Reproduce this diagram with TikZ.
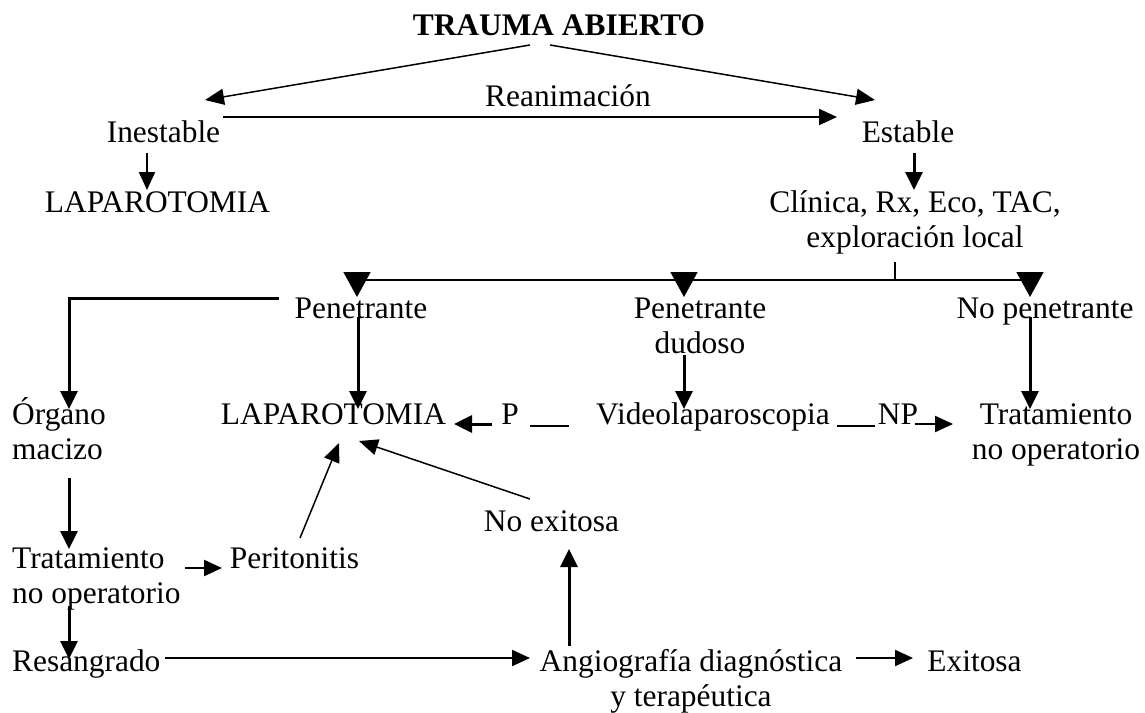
\documentclass[tikz,border=0pt]{standalone}
\usepackage{fontspec}
\setmainfont{Liberation Serif}
\usetikzlibrary{arrows.meta,positioning}
\newcommand{\twoln}[3][c]{\begin{tabular}[t]{@{}#1@{}}#2\\#3\end{tabular}}

\begin{document}
\begin{tikzpicture}[x=1pt,y=-1pt,
    lbl/.style={inner sep=0pt,anchor=base,font=\fontsize{31.4pt}{35pt}\selectfont},
    lblw/.style={lbl,anchor=base west},
    conn/.style={line width=1.5pt},
    tarr/.style={line width=1.5pt,-{Triangle[length=19pt,width=16pt]}},
    arr/.style={line width=2.2pt,-{Triangle[length=18pt,width=16pt]}},
    thickarr/.style={line width=3pt,-{Triangle[length=18pt,width=17pt]}},
    bigarr/.style={line width=1.5pt,-{Triangle[length=25pt,width=27pt]}}]
    \useasboundingbox (0,0) rectangle (1145,712);
    % Labels
    \node[lbl] (title) at (559,35) {\textbf{TRAUMA ABIERTO}};
    \node[lbl] (rean) at (568,106) {Reanimación};
    \node[lbl] (inest) at (163.5,142) {Inestable};
    \node[lbl] (estab) at (908,142) {Estable};
    \node[lbl] (lapI) at (157.5,212) {LAPAROTOMIA};
    \node[lbl] (clin) at (915,212) {\twoln{Clínica, Rx, Eco, TAC,}{exploración local}};
    \node[lbl] (pen) at (361,318) {Penetrante};
    \node[lbl] (pendud) at (700,318) {\twoln{Penetrante}{dudoso}};
    \node[lbl] (nopen) at (1045,318) {No penetrante};
    \node[lblw] (organo) at (12,424) {\twoln[l]{Órgano}{macizo}};
    \node[lbl] (lapII) at (333.5,424) {LAPAROTOMIA};
    \node[lbl] (pP) at (510,424) {P};
    \node[lbl] (video) at (713,424) {Videolaparoscopia};
    \node[lbl] (np) at (898,424) {NP};
    \node[lbl] (tratR) at (1056,424) {\twoln{Tratamiento}{no operatorio}};
    \node[lbl] (noexit) at (551.5,531) {No exitosa};
    \node[lblw] (tratL) at (12,568) {\twoln[l]{Tratamiento}{no operatorio}};
    \node[lbl] (perit) at (294.5,568) {Peritonitis};
    \node[lblw] (resang) at (12,671) {Resangrado};
    \node[lbl] (angio) at (691,671) {\twoln{Angiografía diagnóstica}{y terapéutica}};
    \node[lbl] (exit) at (974.5,671) {Exitosa};
    % Top part
    \draw[tarr] ([shift={(-29,10)}]title.base) -- ([shift={(41.5,-42)}]inest.base);
    \draw[tarr] ([shift={(-9,10)}]title.base) -- ([shift={(-33,-42)}]estab.base);
    \draw[arr] ([shift={(59.5,-25)}]inest.base) -- ([shift={(-71,-25)}]estab.base);
    \draw[arr] ([shift={(-16.5,11)}]inest.base) -- ([shift={(-10.5,-22)}]lapI.base);
    \draw[thickarr] ([shift={(6,11)}]estab.base) -- ([shift={(-1,-22)}]clin.base);
    % Branches
    \draw[conn] ([shift={(-20,50)}]clin.base) -- ([shift={(-20,68)}]clin.base);
    \draw[conn] ([shift={(-4,-38)}]pen.base) -- ([shift={(-15,-38)}]nopen.base);
    \draw[bigarr] ([shift={(-4,-46)}]pen.base) -- ([shift={(-4,-21)}]pen.base);
    \draw[bigarr] ([shift={(-16,-46)}]pendud.base) -- ([shift={(-16,-21)}]pendud.base);
    \draw[bigarr] ([shift={(-15,-46)}]nopen.base) -- ([shift={(-15,-21)}]nopen.base);
    % Penetrante
    \draw[thickarr] ([shift={(-82,-20)}]pen.base) -| ([shift={(57,-15)}]organo.base west);
    \draw[thickarr] ([shift={(-3,-1)}]pen.base) -- ([shift={(24.5,-15)}]lapII.base);
    \draw[thickarr] ([shift={(-16,37)}]pendud.base) -- ([shift={(-29,-15)}]video.base);
    \draw[thickarr] ([shift={(-15,-1)}]nopen.base) -- ([shift={(-26,-15)}]tratR.base);
    % Videolaparoscopia
    \draw[conn] ([shift={(20,2)}]pP.base) -- ([shift={(-144,2)}]video.base);
    \draw[thickarr] ([shift={(-18,0)}]pP.base) -- ([shift={(120.5,0)}]lapII.base);
    \draw[conn] ([shift={(124,2)}]video.base) -- ([shift={(-23,2)}]np.base);
    \draw[arr] ([shift={(17,0)}]np.base) -- ([shift={(-103,0)}]tratR.base);
    % Organo macizo
    \draw[thickarr] ([shift={(57,54)}]organo.base west) -- ([shift={(57,-19)}]tratL.base west);
    \draw[arr] ([shift={(173,0)}]tratL.base west) -- ([shift={(-72.5,0)}]perit.base);
    \draw[thickarr] ([shift={(57,38)}]tratL.base west) -- ([shift={(57,-12)}]resang.base west);
    \draw[arr] ([shift={(153,-13)}]resang.base west) -- ([shift={(-161,-13)}]angio.base);
    \draw[tarr] ([shift={(5.5,-30)}]perit.base) -- ([shift={(5.5,19)}]lapII.base);
    \draw[tarr] ([shift={(-21.5,-32)}]noexit.base) -- ([shift={(25.5,17)}]lapII.base);
    \draw[thickarr] ([shift={(17.5,115)}]noexit.base) -- ([shift={(17.5,18)}]noexit.base);
    \draw[arr] ([shift={(165,-13)}]angio.base) -- ([shift={(-61.5,-13)}]exit.base);
\end{tikzpicture}
\end{document}
